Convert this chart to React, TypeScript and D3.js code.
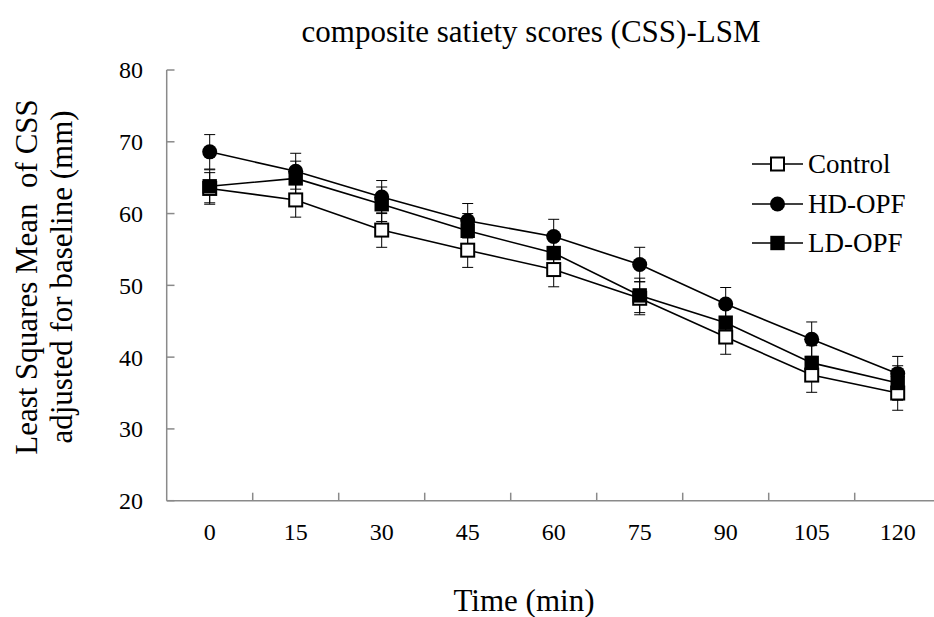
import React from "react";
import * as d3 from "d3";

const times = ["0", "15", "30", "45", "60", "75", "90", "105", "120"];
const yTicks = [20, 30, 40, 50, 60, 70, 80];
const controlMean = [63.5, 61.9, 57.7, 54.9, 52.2, 48.2, 42.8, 37.5, 35.0];
const hdMean = [68.6, 65.9, 62.3, 59.0, 56.8, 52.9, 47.4, 42.5, 37.7];
const ldMean = [63.8, 64.9, 61.3, 57.6, 54.5, 48.6, 44.8, 39.2, 36.4];
const controlSE = [2.2, 2.4, 2.4, 2.4, 2.4, 2.3, 2.4, 2.4, 2.4];
const hdSE = [2.4, 2.5, 2.3, 2.4, 2.4, 2.4, 2.3, 2.4, 2.4];
const ldSE = [2.3, 2.4, 2.4, 2.4, 2.4, 2.4, 2.4, 2.4, 2.4];
const seriesNames = ["Control", "HD-OPF", "LD-OPF"];

const FONT = "'Liberation Serif', 'Times New Roman', serif";

type Series = { name: string; mean: number[]; se: number[]; marker: string };

const series: Series[] = [
  { name: seriesNames[0], mean: controlMean, se: controlSE, marker: "openSquare" },
  { name: seriesNames[1], mean: hdMean, se: hdSE, marker: "circle" },
  { name: seriesNames[2], mean: ldMean, se: ldSE, marker: "square" },
];

function Marker({ type, x, y }: { type: string; x: number; y: number }) {
  if (type === "circle") return <circle cx={x} cy={y} r={7.5} fill="#000" />;
  if (type === "square")
    return <rect x={x - 7.2} y={y - 7.2} width={14.4} height={14.4} fill="#000" />;
  return (
    <rect x={x - 6.5} y={y - 6.5} width={13} height={13} fill="#fff" stroke="#000" strokeWidth={2} />
  );
}

export default function App() {
  const W = 934;
  const H = 617;
  const x = d3.scaleBand<string>().domain(times).range([166.7, 940.7]).padding(0);
  const y = d3.scaleLinear().domain([20, 80]).range([500.7, 70]);
  const cx = (t: string) => (x(t) as number) + x.bandwidth() / 2;
  const line = d3
    .line<number>()
    .x((_, i) => cx(times[i]))
    .y((v) => y(v));
  const axisColor = "#8a8a8a";
  const legendRows = [164, 204, 243];

  return (
    <svg
      width={W}
      height={H}
      style={{ position: "absolute", left: 0, top: 0, background: "#fff" }}
      fontFamily={FONT}
    >
      <rect width={W} height={H} fill="#fff" />
      {/* title */}
      <text x={531} y={42} textAnchor="middle" fontSize={31} fill="#000">
        composite satiety scores (CSS)-LSM
      </text>
      {/* y axis */}
      <line x1={166.7} x2={166.7} y1={y(80)} y2={y(20)} stroke={axisColor} strokeWidth={1.5} />
      {yTicks.map((t) => (
        <g key={t}>
          <line x1={166.7} x2={174.5} y1={y(t)} y2={y(t)} stroke={axisColor} strokeWidth={1.5} />
          <text x={143} y={y(t)} dy="0.35em" textAnchor="end" fontSize={24} fill="#000">
            {t}
          </text>
        </g>
      ))}
      {/* x axis */}
      <line x1={166.7} x2={W} y1={y(20)} y2={y(20)} stroke={axisColor} strokeWidth={1.5} />
      {times.map((t, i) => (
        <g key={t}>
          {i > 0 && (
            <line
              x1={x(t) as number}
              x2={x(t) as number}
              y1={y(20)}
              y2={y(20) - 8}
              stroke={axisColor}
              strokeWidth={1.5}
            />
          )}
          <text x={cx(t)} y={540} textAnchor="middle" fontSize={24} fill="#000">
            {t}
          </text>
        </g>
      ))}
      {/* axis titles */}
      <text x={524} y={611} textAnchor="middle" fontSize={31} fill="#000">
        Time (min)
      </text>
      <text
        transform={`translate(36.7,277) rotate(-90)`}
        textAnchor="middle"
        fontSize={31}
        fill="#000"
        style={{ whiteSpace: "pre" }}
      >
        {"Least Squares Mean  of CSS"}
      </text>
      <text transform={`translate(72,277) rotate(-90)`} textAnchor="middle" fontSize={31} fill="#000">
        adjusted for baseline (mm)
      </text>
      {/* error bars */}
      {series.map((s) => (
        <g key={s.name + "err"}>
          {s.mean.map((m, i) => {
            const px = cx(times[i]);
            const hi = y(m + s.se[i]);
            const lo = y(m - s.se[i]);
            return (
              <g key={i} stroke="#000" strokeWidth={1}>
                <line x1={px} x2={px} y1={hi} y2={lo} />
                <line x1={px - 5.5} x2={px + 5.5} y1={hi} y2={hi} />
                <line x1={px - 5.5} x2={px + 5.5} y1={lo} y2={lo} />
              </g>
            );
          })}
        </g>
      ))}
      {/* lines */}
      {series.map((s) => (
        <path key={s.name + "line"} d={line(s.mean) || ""} fill="none" stroke="#000" strokeWidth={1.6} />
      ))}
      {/* markers */}
      {series.map((s) => (
        <g key={s.name + "mk"}>
          {s.mean.map((m, i) => (
            <Marker key={i} type={s.marker} x={cx(times[i])} y={y(m)} />
          ))}
        </g>
      ))}
      {/* legend */}
      {series.map((s, i) => (
        <g key={s.name + "lg"}>
          <line x1={752} x2={803} y1={legendRows[i]} y2={legendRows[i]} stroke="#000" strokeWidth={1.6} />
          <Marker type={s.marker} x={777.5} y={legendRows[i]} />
          <text x={808} y={legendRows[i]} dy="0.35em" fontSize={27} fill="#000">
            {s.name}
          </text>
        </g>
      ))}
    </svg>
  );
}
